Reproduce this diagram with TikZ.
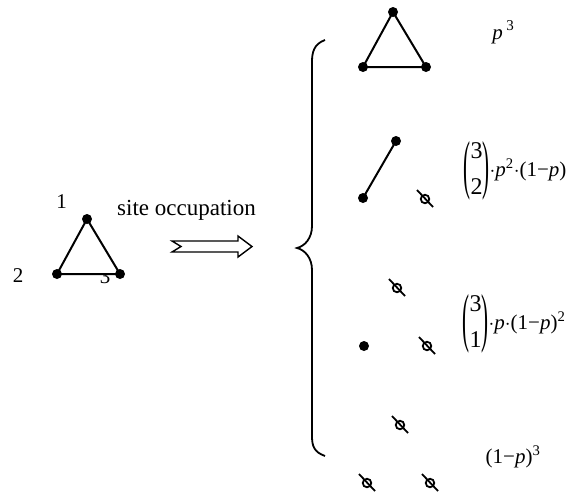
\documentclass[tikz,border=0pt]{standalone}
\usepackage{fontspec}
\setmainfont{Liberation Serif}
\newcommand{\bigparL}{\raisebox{-10.5pt}{\scalebox{1}[3.1]{(}}}
\newcommand{\bigparR}{\raisebox{-10.5pt}{\scalebox{1}[3.1]{)}}}
\newcommand{\binstack}[2]{{\fontsize{24}{34}\selectfont\begin{tabular}{@{}c@{}}#1\\[2pt]#2\end{tabular}}}
\begin{document}
\begin{tikzpicture}[x=1pt,y=-1pt,line width=2pt,
  dot/.style={circle,fill=black,draw=none,inner sep=0pt,minimum size=10pt},
  pt/.style={inner sep=0pt,minimum size=0pt},
  emptysite/.pic={\node[circle,draw,line width=1.8pt,inner sep=0pt,minimum size=8.5pt] (-c) at (0,0) {};
                  \draw[line width=1.8pt] (-8,-9) -- (8,8);},
  numtxt/.style={inner sep=0pt,anchor=base,font=\fontsize{21}{25}\selectfont},
  lbl/.style={inner sep=0pt,font=\fontsize{21}{25}\selectfont}]
\useasboundingbox (0,0) rectangle (569,491);
% left triangle
\node[numtxt] (n1) at (61.5,208) {1};
\node[numtxt] (n2) at (18,282) {2};
\node[numtxt] (n3) at (105,283) {3};
\node[pt] (a1) at (87,219) {};
\node[pt] (a2) at (57,274) {};
\node[pt] (a3) at (120,274) {};
\fill[white] (a1.center) -- (a2.center) -- (a3.center) -- cycle;
\draw (a1.center) -- (a2.center) -- (a3.center) -- cycle;
\node[dot] at (a1) {};
\node[dot] at (a2) {};
\node[dot] at (a3) {};
\node[numtxt,font=\fontsize{23}{27}\selectfont] (so) at (186.5,215) {site occupation};
% double arrow
\coordinate (arrtail) at (172,246.5);
\coordinate (arrtip) at (252,246.5);
\draw[line width=1.4pt,line join=miter]
  (arrtail) ++(0,-5.5) -- ++(66,0) -- ++(0,-5) -- (arrtip) -- ++(-14,10.5) -- ++(0,-5) -- ++(-66,0) -- ++(9,-5.5) -- cycle;
% brace
\draw[line width=1.8pt] (325,40) .. controls (314,44) and (312,52) .. (312,62) -- (312,226)
  .. controls (312,238) and (305,246) .. (297,248)
  .. controls (305,250) and (312,258) .. (312,270) -- (312,436)
  .. controls (312,446) and (314,452) .. (325,456);
% row 1
\node[pt] (b1) at (393,12) {};
\node[pt] (b2) at (363,67) {};
\node[pt] (b3) at (426,67) {};
\draw (b1.center) -- (b2.center) -- (b3.center) -- cycle;
\node[dot] at (b1) {};
\node[dot] at (b2) {};
\node[dot] at (b3) {};
\node[lbl,anchor=base] (l1) at (503,39) {\textit{p}\,\raisebox{9pt}{\fontsize{15}{18}\selectfont 3}};
% row 2
\node[dot] (c1) at (396,141) {};
\node[dot] (c2) at (363,198) {};
\draw (c1.center) -- (c2.center);
\pic (c3) at (425,199) {emptysite};
\node[lbl] (l2) at (515,170) {\bigparL\binstack{3}{2}\bigparR$\cdot$\textit{p}\textsuperscript{2}$\cdot$(1−\textit{p})};
% row 3
\pic (d1) at (397,288) {emptysite};
\node[dot] (d2) at (364,346) {};
\pic (d3) at (427,346) {emptysite};
\node[lbl] (l3) at (514,323) {\bigparL\binstack{3}{1}\bigparR$\cdot$\textit{p}$\cdot$(1−\textit{p})\textsuperscript{2}};
% row 4
\pic (e1) at (400,425) {emptysite};
\pic (e2) at (367,483) {emptysite};
\pic (e3) at (430,483) {emptysite};
\node[lbl] (l4) at (513,457) {(1−\textit{p})\textsuperscript{3}};
\end{tikzpicture}
\end{document}
